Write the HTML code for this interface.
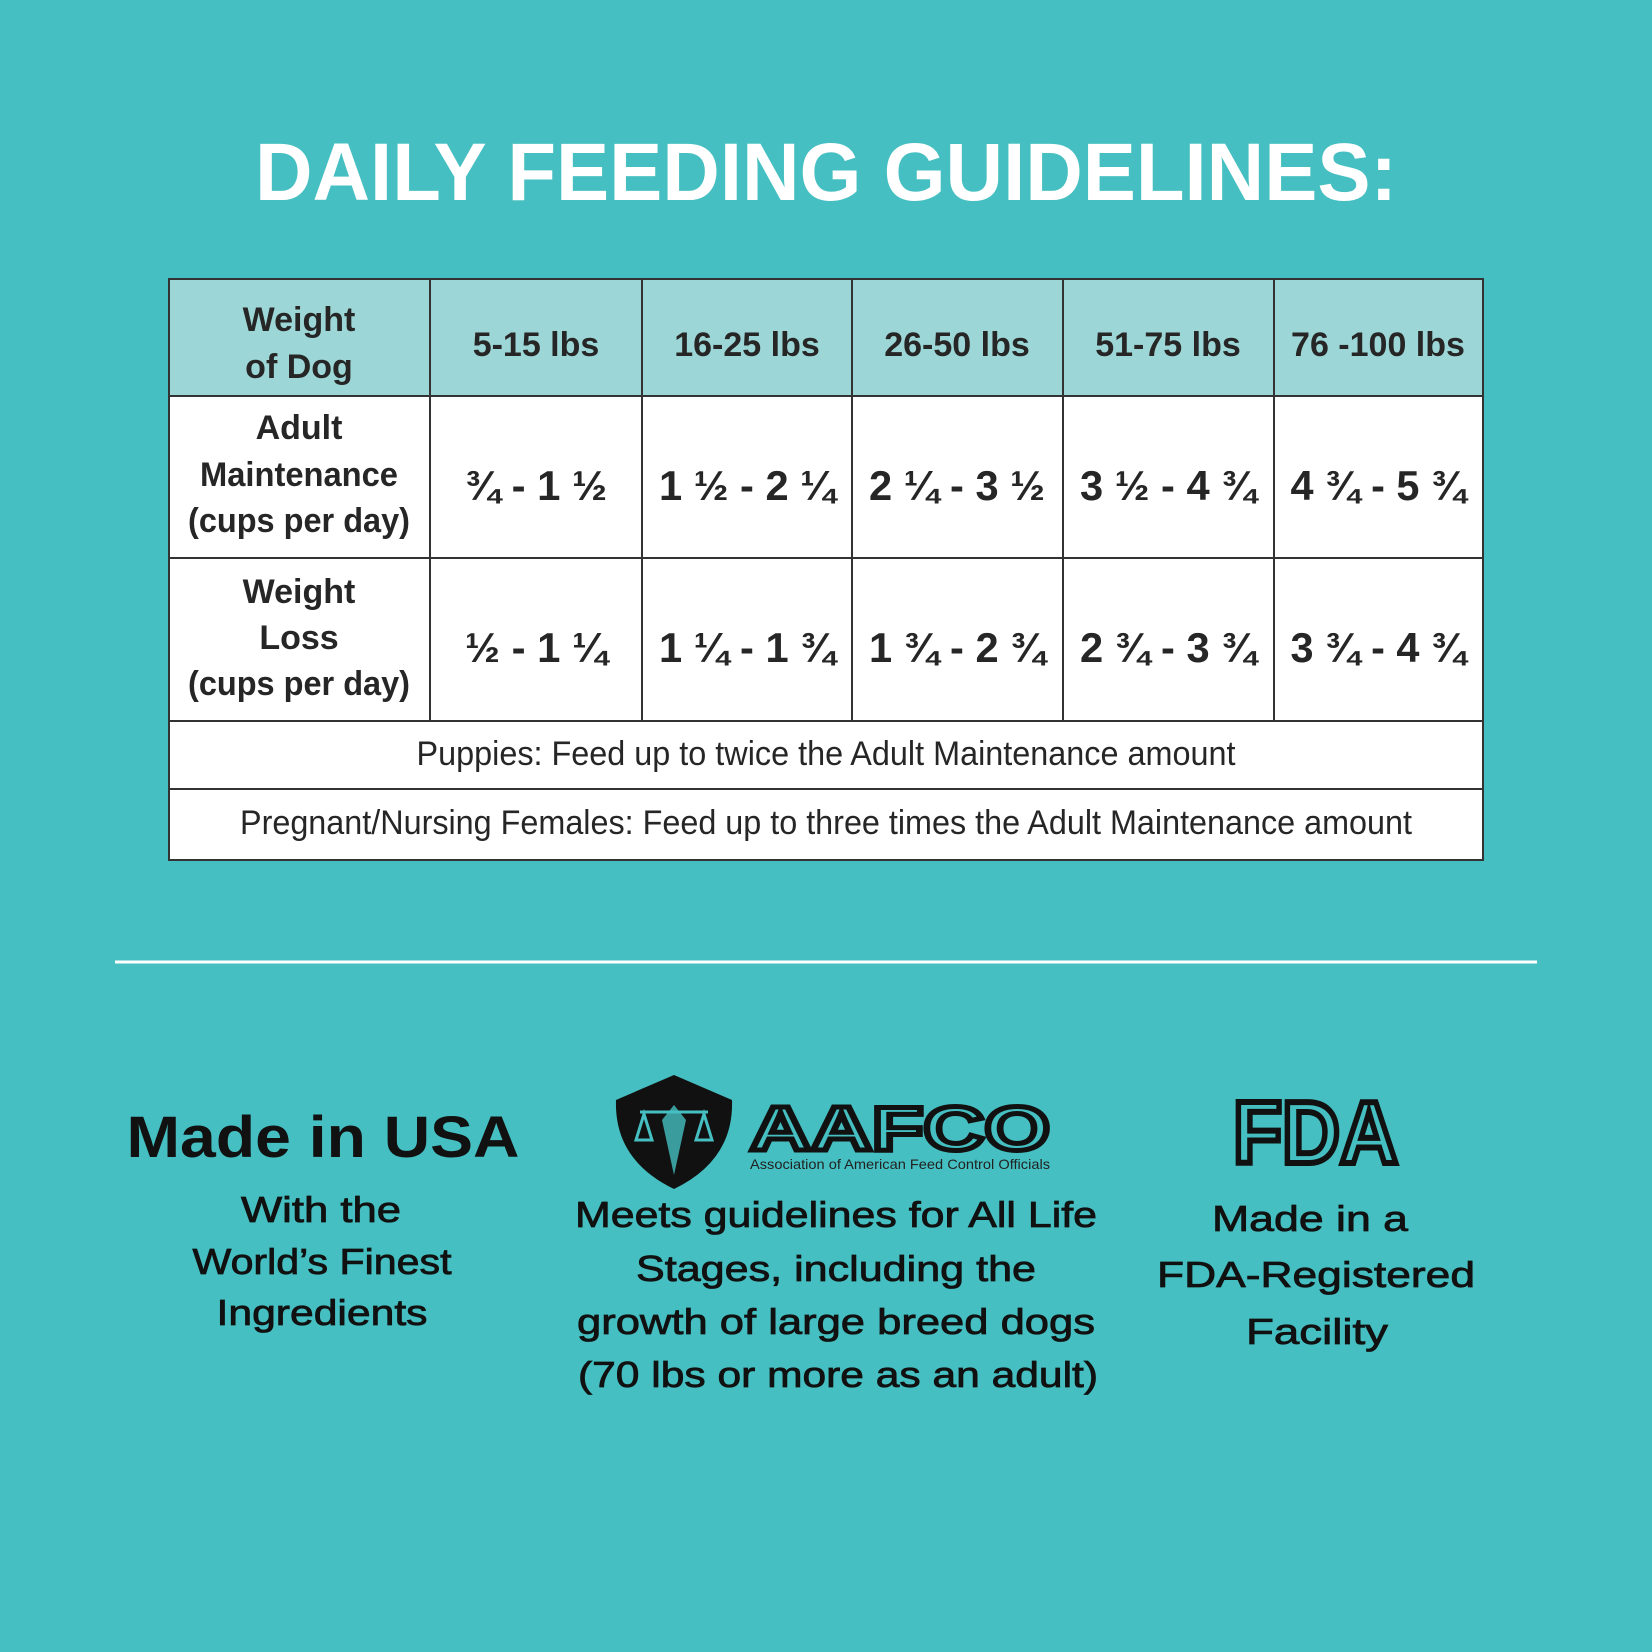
<!DOCTYPE html>
<html><head><meta charset="utf-8"><style>html,body{margin:0;padding:0;background:#45bfc1}svg{display:block}</style></head><body>
<svg width="1652" height="1652" viewBox="0 0 1652 1652" xmlns="http://www.w3.org/2000/svg">
<rect width="1652" height="1652" fill="#45bfc1"/>
<text x="826" y="200" text-anchor="middle" font-family="Liberation Sans, sans-serif" font-weight="bold" font-size="82" fill="#fff" textLength="1142" lengthAdjust="spacingAndGlyphs">DAILY FEEDING GUIDELINES:</text>
<!-- table -->
<rect x="169" y="279" width="1314" height="117" fill="#9dd6d6"/>
<rect x="169" y="396" width="1314" height="464" fill="#fff"/>
<g stroke="#333" stroke-width="2" fill="none">
<rect x="169" y="279" width="1314" height="581"/>
<line x1="169" y1="396" x2="1483" y2="396"/>
<line x1="169" y1="558" x2="1483" y2="558"/>
<line x1="169" y1="721" x2="1483" y2="721"/>
<line x1="169" y1="789" x2="1483" y2="789"/>
<line x1="430" y1="279" x2="430" y2="721"/>
<line x1="642" y1="279" x2="642" y2="721"/>
<line x1="852" y1="279" x2="852" y2="721"/>
<line x1="1063" y1="279" x2="1063" y2="721"/>
<line x1="1274" y1="279" x2="1274" y2="721"/>
</g>
<g font-family="Liberation Sans Narrow, Liberation Sans, sans-serif" font-weight="bold" fill="#262626" text-anchor="middle">
<g font-size="34">
<text x="299" y="331">Weight</text><text x="299" y="378">of Dog</text>
<text x="536" y="356">5-15 lbs</text><text x="747" y="356">16-25 lbs</text><text x="957" y="356">26-50 lbs</text><text x="1168" y="356">51-75 lbs</text><text x="1378" y="356">76 -100 lbs</text>
<text x="299" y="439">Adult</text><text x="299" y="486" textLength="198" lengthAdjust="spacingAndGlyphs">Maintenance</text><text x="299" y="532" textLength="222" lengthAdjust="spacingAndGlyphs">(cups per day)</text>
<text x="299" y="603">Weight</text><text x="299" y="649">Loss</text><text x="299" y="695" textLength="222" lengthAdjust="spacingAndGlyphs">(cups per day)</text>
</g>
<g font-size="42">
<text x="536" y="500" textLength="142" lengthAdjust="spacingAndGlyphs">¾ - 1 ½</text><text x="747" y="500" textLength="176" lengthAdjust="spacingAndGlyphs">1 ½ - 2 ¼</text><text x="957" y="500" textLength="176" lengthAdjust="spacingAndGlyphs">2 ¼ - 3 ½</text><text x="1168" y="500" textLength="176" lengthAdjust="spacingAndGlyphs">3 ½ - 4 ¾</text><text x="1378" y="500" textLength="175" lengthAdjust="spacingAndGlyphs">4 ¾ - 5 ¾</text>
<text x="536" y="662" textLength="142" lengthAdjust="spacingAndGlyphs">½ - 1 ¼</text><text x="747" y="662" textLength="176" lengthAdjust="spacingAndGlyphs">1 ¼ - 1 ¾</text><text x="957" y="662" textLength="176" lengthAdjust="spacingAndGlyphs">1 ¾ - 2 ¾</text><text x="1168" y="662" textLength="176" lengthAdjust="spacingAndGlyphs">2 ¾ - 3 ¾</text><text x="1378" y="662" textLength="175" lengthAdjust="spacingAndGlyphs">3 ¾ - 4 ¾</text>
</g>
<g font-weight="normal" font-size="34">
<text x="826" y="765" textLength="819" lengthAdjust="spacingAndGlyphs">Puppies: Feed up to twice the Adult Maintenance amount</text>
<text x="826" y="834" textLength="1172" lengthAdjust="spacingAndGlyphs">Pregnant/Nursing Females: Feed up to three times the Adult Maintenance amount</text>
</g>
</g>
<line x1="115" y1="962" x2="1537" y2="962" stroke="#fff" stroke-width="3"/>
<!-- bottom -->
<g font-family="Liberation Sans, sans-serif" fill="#111" text-anchor="middle">
<text x="323" y="1157" font-weight="bold" font-size="58" textLength="393" lengthAdjust="spacingAndGlyphs">Made in USA</text>
<g font-size="36" stroke="#111" stroke-width="0.8">
<text x="321" y="1222" textLength="160" lengthAdjust="spacingAndGlyphs">With the</text>
<text x="322" y="1274" textLength="259" lengthAdjust="spacingAndGlyphs">World’s Finest</text>
<text x="322" y="1325" textLength="211" lengthAdjust="spacingAndGlyphs">Ingredients</text>
<text x="836" y="1227" textLength="522" lengthAdjust="spacingAndGlyphs">Meets guidelines for All Life</text>
<text x="836" y="1281" textLength="400" lengthAdjust="spacingAndGlyphs">Stages, including the</text>
<text x="836" y="1334" textLength="518" lengthAdjust="spacingAndGlyphs">growth of large breed dogs</text>
<text x="838" y="1387" textLength="520" lengthAdjust="spacingAndGlyphs">(70 lbs or more as an adult)</text>
<text x="1310" y="1231" textLength="196" lengthAdjust="spacingAndGlyphs">Made in a</text>
<text x="1316" y="1287" textLength="318" lengthAdjust="spacingAndGlyphs">FDA-Registered</text>
<text x="1317" y="1344" textLength="142" lengthAdjust="spacingAndGlyphs">Facility</text>
</g>
</g>
<!-- AAFCO shield -->
<path d="M674 1075 L732 1100 Q734 1160 674 1189 Q614 1160 616 1100 Z" fill="#111"/>
<path d="M674 1105 L686 1120 L674 1175 L662 1120 Z" fill="#45bfc1" opacity="0.8"/>
<line x1="640" y1="1112" x2="708" y2="1112" stroke="#45bfc1" stroke-width="3"/>
<path d="M636 1140 l8 -26 l8 26 Z M696 1140 l8 -26 l8 26 Z" fill="none" stroke="#45bfc1" stroke-width="3"/>
<text x="750" y="1150" font-family="Liberation Sans, sans-serif" font-weight="bold" font-size="62" fill="none" stroke="#111" stroke-width="5" textLength="300" lengthAdjust="spacingAndGlyphs">AAFCO</text>
<text x="750" y="1169" font-family="Liberation Sans Narrow, Liberation Sans, sans-serif" font-size="14" fill="#222" textLength="300" lengthAdjust="spacingAndGlyphs">Association of American Feed Control Officials</text>
<!-- FDA -->
<text x="1233" y="1163" font-family="Liberation Sans, sans-serif" font-weight="bold" font-size="88" fill="none" stroke="#111" stroke-width="6" textLength="165" lengthAdjust="spacingAndGlyphs">FDA</text>
</svg>
</body></html>
